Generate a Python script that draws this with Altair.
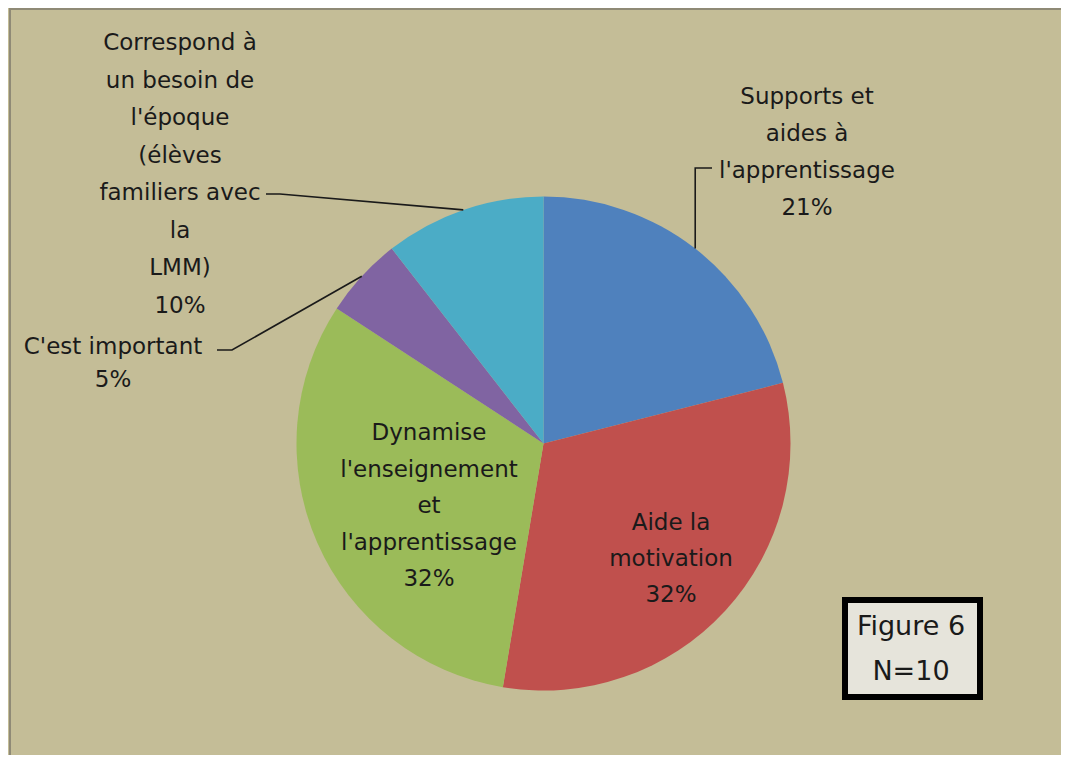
import math
import altair as alt
import pandas as pd

# ---- data ----
categories = [
    "Supports et aides à l'apprentissage",
    "Aide la motivation",
    "Dynamise l'enseignement et l'apprentissage",
    "C'est important",
    "Correspond à un besoin de l'époque (élèves familiers avec la LMM)",
]
counts = [4, 6, 6, 1, 2]  # responses -> 21%, 32%, 32%, 5%, 10%
percent_labels = ["21%", "32%", "32%", "5%", "10%"]
label_lines = [
    ["Supports et", "aides à", "l'apprentissage"],
    ["Aide la", "motivation"],
    ["Dynamise", "l'enseignement", "et", "l'apprentissage"],
    ["C'est important"],
    ["Correspond à", "un besoin de", "l'époque", "(élèves", "familiers avec", "la", "LMM)"],
]
colors = ["#4F81BD", "#C0504D", "#9BBB59", "#8064A2", "#4BACC6"]

# ---- layout (styles / positions, not data) ----
W, H = 1053, 747
CX, CY, R = 535.5, 435.5, 247
BG = "#C4BD97"
FONT = "DejaVu Sans"
FS = 23
# first-line anchor of each label block (chart pixel coords) and line height
label_pos = [(799, 89, 37), (663, 515, 36), (421, 425, 36.5), (105, 339, 33), (172, 35, 37.5)]
# leader elbows: (elbow, end) for outside labels
leaders = {
    0: [(None, 160), (704, 160)],
    4: [(272, 186), (258, 186)],
    3: [(224, 342), (209, 342)],
}

df = pd.DataFrame({"category": categories, "count": counts, "idx": list(range(len(categories)))})

pie = alt.Chart(df).mark_arc(outerRadius=R, x=CX, y=CY).encode(
    theta=alt.Theta("count:Q", stack=True),
    order=alt.Order("idx:Q"),
    color=alt.Color("category:N", scale=alt.Scale(domain=categories, range=colors), legend=None),
)

layers = [pie]

# leader lines from slice mid-angle on the pie edge
total = sum(counts)
cum = 0
mids = []
for c in counts:
    mids.append((cum + c / 2) / total * 2 * math.pi)
    cum += c

for i, pts in leaders.items():
    a = mids[i]
    sx, sy = CX + R * math.sin(a), CY - R * math.cos(a)
    (ex, ey), (tx, ty) = pts
    if ex is None:
        ex = sx
    rows = [{"x": sx, "y": sy, "o": 0}, {"x": ex, "y": ey, "o": 1}, {"x": tx, "y": ty, "o": 2}]
    line = alt.Chart(alt.Data(values=rows)).mark_line(color="#1a1a1a", strokeWidth=1.6).encode(
        x=alt.X("x:Q", scale=None, axis=None),
        y=alt.Y("y:Q", scale=None, axis=None),
        order="o:Q",
    )
    layers.append(line)

for i, lines in enumerate(label_lines):
    x, y, lh = label_pos[i]
    t = alt.Chart(alt.Data(values=[{}])).mark_text(
        text=lines + [percent_labels[i]], font=FONT, fontSize=FS, lineHeight=lh,
        align="center", baseline="middle", color="#1a1a1a",
    ).encode(x=alt.value(x), y=alt.value(y))
    layers.append(t)

# Figure box
box = alt.Chart(alt.Data(values=[{}])).mark_rect(
    fill="#E6E4DB", stroke="#000000", strokeWidth=6
).encode(x=alt.value(837), x2=alt.value(972), y=alt.value(592), y2=alt.value(689))
layers.append(box)
box_text = alt.Chart(alt.Data(values=[{}])).mark_text(
    text=["Figure 6", " N=10"], font=FONT, fontSize=27, lineHeight=45,
    align="center", baseline="middle", color="#1a1a1a",
).encode(x=alt.value(903), y=alt.value(619))
layers.append(box_text)

# frame lines top/left
frame = alt.Chart(alt.Data(values=[{}])).mark_rule(color="#8F8A76", strokeWidth=2).encode(
    x=alt.value(1), x2=alt.value(W), y=alt.value(1), y2=alt.value(1))
frame2 = alt.Chart(alt.Data(values=[{}])).mark_rule(color="#8F8A76", strokeWidth=2).encode(
    x=alt.value(2), x2=alt.value(2), y=alt.value(0), y2=alt.value(H))
layers += [frame, frame2]

chart = alt.layer(*layers).properties(
    width=W, height=H, padding=0, autosize="none", background=BG
).configure_view(stroke=None)

chart.save("out.html", embed_options={"renderer": "svg", "actions": False})
